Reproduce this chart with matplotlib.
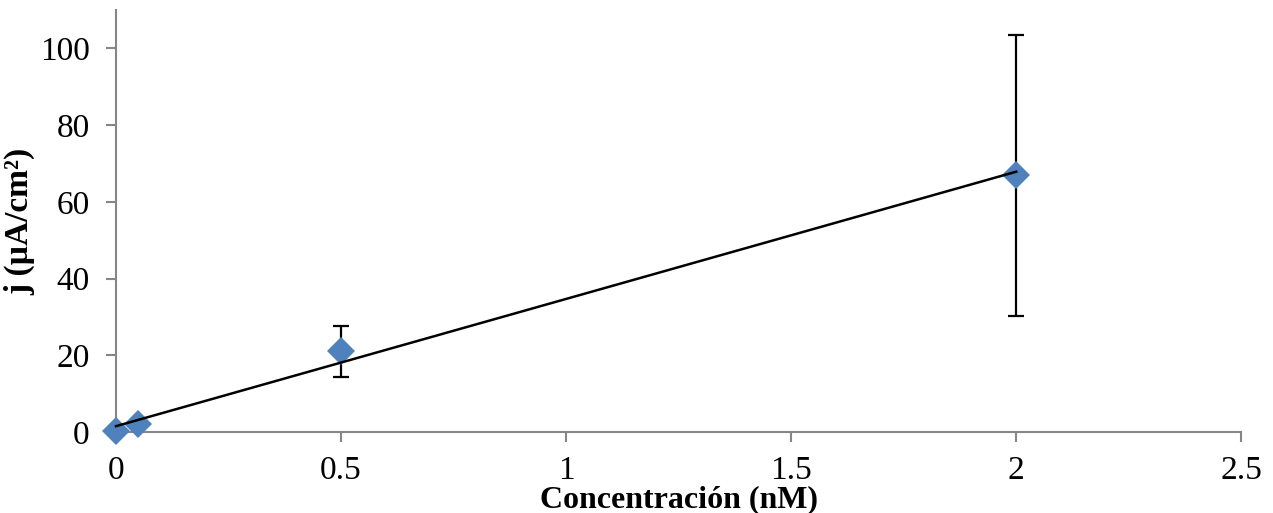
import matplotlib.pyplot as plt
import numpy as np

# concentration (nM) vs current density j (uA/cm2)
conc = [0.0, 0.05, 0.5, 2.0]
j_mean = [0.3, 2.0, 21.2, 67.1]
err_low = [0.0, 0.0, 6.8, 36.8]
err_high = [0.0, 0.0, 6.5, 36.3]

x_ticks = [0, 0.5, 1, 1.5, 2, 2.5]
x_tick_labels = ["0", "0.5", "1", "1.5", "2", "2.5"]
y_ticks = [0, 20, 40, 60, 80, 100]

plt.rcParams['font.family'] = ['Liberation Serif', 'DejaVu Serif']

axis_grey = '#868686'
marker_blue = '#4F81BD'


def main():
    fig = plt.figure(figsize=(12.73, 5.13), dpi=100)
    ax = fig.add_axes([0.0911, 0.158, 0.884, 0.8225])

    # error bars only where there is a spread
    ax.errorbar(conc, j_mean, yerr=[err_low, err_high], fmt='none',
                ecolor='black', elinewidth=1.6, capsize=6, capthick=1.6, zorder=2)
    ax.plot(conc, j_mean, linestyle='none', marker='D', markersize=14.5,
            color=marker_blue, markeredgewidth=0, zorder=3, clip_on=False)

    # linear trendline over the data range
    slope, intercept = np.polyfit(conc, j_mean, 1)
    xs = np.array([min(conc), max(conc)])
    ax.plot(xs, slope * xs + intercept, color='black', linewidth=1.8, zorder=4,
            clip_on=False)

    ax.set_xlim(0, 2.5)
    ax.set_ylim(0, 110)
    ax.set_xticks(x_ticks)
    ax.set_xticklabels(x_tick_labels)
    ax.set_yticks(y_ticks)

    for side in ['top', 'right']:
        ax.spines[side].set_visible(False)
    for side in ['left', 'bottom']:
        ax.spines[side].set_color(axis_grey)
        ax.spines[side].set_linewidth(1.5)
    ax.tick_params(axis='both', colors=axis_grey, length=7, width=1.5,
                   labelsize=24, labelcolor='black')
    ax.tick_params(axis='y', pad=12)
    ax.tick_params(axis='x', pad=10)

    ax.set_xlabel("Concentración (nM)", fontsize=23, fontweight='bold')
    ax.xaxis.set_label_coords(0.5, -0.126)
    ax.set_ylabel("j (µA/cm²)", fontsize=24, fontweight='bold', labelpad=3)

    fig.savefig("out.png", dpi=100)


if __name__ == "__main__":
    main()
